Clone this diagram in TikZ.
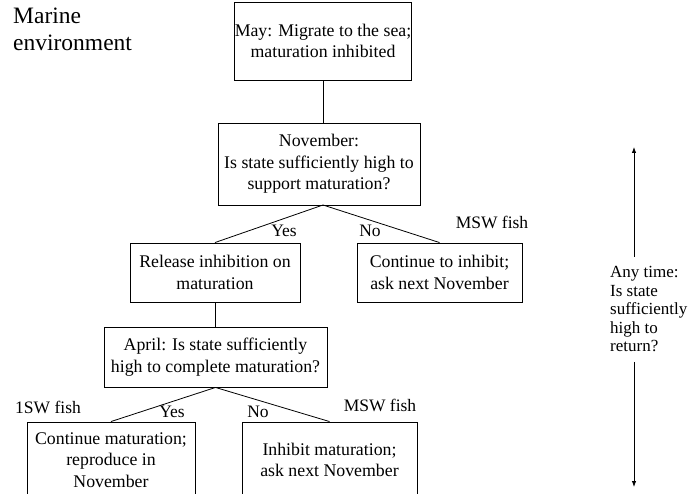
\documentclass[tikz,border=0pt]{standalone}
\usepackage{fontspec}
\setmainfont{Liberation Serif}
\usetikzlibrary{arrows.meta}
\begin{document}
\begin{tikzpicture}[x=1pt,y=-1pt,
  boxnode/.style={draw, line width=0.9pt, inner sep=0pt, align=center,
    font=\fontsize{17.8}{21.5}\selectfont},
  lbl/.style={inner sep=0pt, font=\fontsize{17.5}{19}\selectfont},
  conn/.style={line width=0.8pt},
  tip/.style={line width=0.8pt, -{Latex[length=6pt,width=4.5pt]}}]
\useasboundingbox (0,0) rectangle (691,494);
\clip (0,0) rectangle (691,494);
\node[anchor=north west, align=left, inner sep=0pt,
  font=\fontsize{23.5}{27}\selectfont] (env) at (13,8) {Marine\\environment};
\node[boxnode, minimum width=174pt, minimum height=78pt] (may) at (323,41)
  {May: Migrate to the sea;\\maturation inhibited};
\node[boxnode, minimum width=202pt, minimum height=82pt] (nov) at (319,164)
  {November:\\Is state sufficiently high to\\support maturation?};
\node[boxnode, minimum width=170pt, minimum height=59pt] (rel) at (215,272.5)
  {Release inhibition on\\maturation};
\node[boxnode, minimum width=165pt, minimum height=59pt] (cont) at (439.5,272.5)
  {Continue to inhibit;\\ask next November};
\node[boxnode, minimum width=223pt, minimum height=60pt] (apr) at (215.5,357)
  {April: Is state sufficiently\\high to complete maturation?};
\node[boxnode, minimum width=168pt, minimum height=76pt] (cmat) at (111,460)
  {Continue maturation;\\reproduce in\\November};
\node[boxnode, minimum width=175pt, minimum height=76pt] (inh) at (329.5,460)
  {Inhibit maturation;\\ask next November};
\coordinate (novb) at (323,205);
\draw[conn] (may.south) -- (may.south |- nov.north);
\draw[conn] (novb) -- (rel.north);
\draw[conn] (novb) -- (cont.north);
\draw[conn] (rel.south) -- (rel.south |- apr.north);
\draw[conn] (apr.south) -- (cmat.north);
\draw[conn] (apr.south) -- (inh.north);
\node[lbl] (yes1) at (284,231) {Yes};
\node[lbl] (no1) at (370,231) {No};
\node[lbl] (msw1) at (492,222) {MSW fish};
\node[lbl] (sw1) at (48,407) {1SW fish};
\node[lbl] (yes2) at (172,412) {Yes};
\node[lbl] (no2) at (258,412) {No};
\node[lbl] (msw2) at (380,405) {MSW fish};
\node[anchor=west, align=left, inner sep=0pt,
  font=\fontsize{17}{18.5}\selectfont] (any) at (610,309)
  {Any time:\\Is state\\sufficiently\\high to\\return?};
\coordinate (upa) at (634,257);
\coordinate (upb) at (634,147);
\coordinate (dna) at (634,362);
\coordinate (dnb) at (634,487);
\draw[tip] (upa) -- (upb);
\draw[tip] (dna) -- (dnb);
\end{tikzpicture}
\end{document}
